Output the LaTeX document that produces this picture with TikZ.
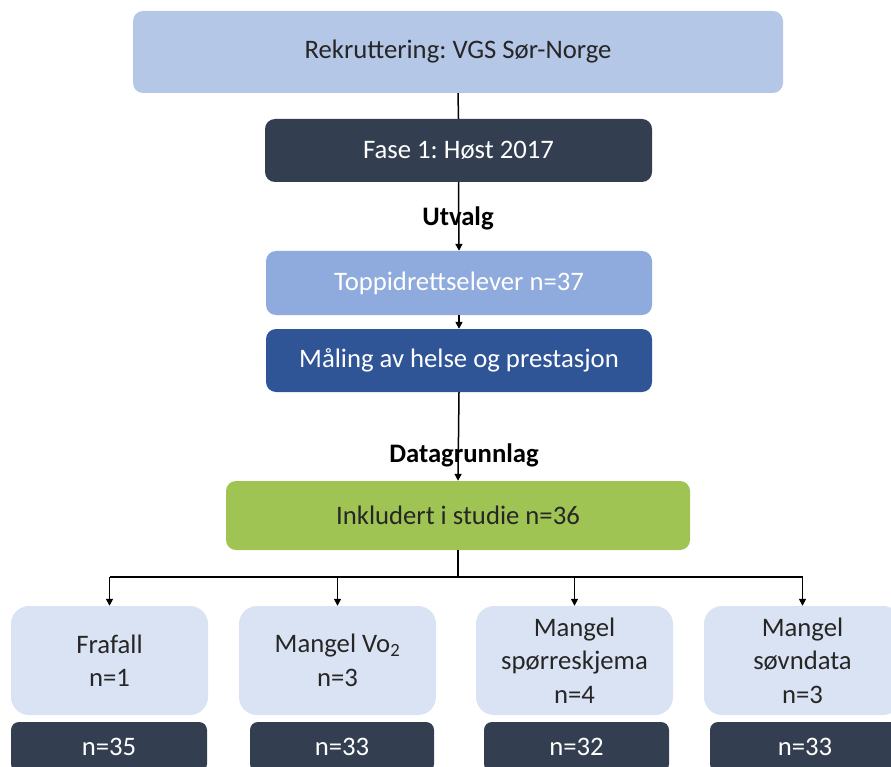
\documentclass[tikz,border=0pt]{standalone}
\usepackage{fontspec}
\setmainfont{Carlito}
\frenchspacing
\usetikzlibrary{arrows.meta}
\definecolor{cRek}{HTML}{B4C7E7}
\definecolor{cDark}{HTML}{333F50}
\definecolor{cTop}{HTML}{8FAADC}
\definecolor{cMaal}{HTML}{2F5597}
\definecolor{cInk}{HTML}{9FC453}
\definecolor{cLight}{HTML}{DAE3F3}
\definecolor{cTxt}{HTML}{262626}
\tikzset{
  boxbase/.style={rectangle, inner sep=0pt, align=center, font=\fontsize{26.7}{33.5}\selectfont},
  mainbox/.style={boxbase, rounded corners=10pt},
  lightbox/.style={boxbase, rounded corners=18pt, fill=cLight, text=cTxt, minimum width=197pt, minimum height=109pt},
  darkbox/.style={boxbase, rounded corners=8pt, fill=cDark, text=white, minimum height=50pt},
  lbl/.style={font=\bfseries\fontsize{26.7}{30}\selectfont, inner sep=0pt},
  conn/.style={line width=1.5pt, black},
  arr/.style={conn, -{Triangle[length=7pt,width=7pt]}}
}
\begin{document}
\begin{tikzpicture}[x=1pt,y=-1pt]
\useasboundingbox (0,0) rectangle (891,767);
\clip (0,0) rectangle (891,767);
\node[mainbox, fill=cRek, text=cTxt, minimum width=650pt, minimum height=82pt] (rek) at (458,52) {Rekruttering: VGS Sør-Norge};
\node[mainbox, fill=cDark, text=white, minimum width=387pt, minimum height=63pt] (fase) at (458.5,150.5) {Fase 1: Høst 2017};
\node[mainbox, fill=cTop, text=white, minimum width=386pt, minimum height=64pt] (top) at (459,283) {Toppidrettselever n=37};
\node[mainbox, fill=cMaal, text=white, minimum width=386pt, minimum height=63pt] (maal) at (459,360.5) {Måling av helse og prestasjon};
\node[mainbox, fill=cInk, text=cTxt, minimum width=464pt, minimum height=69pt] (ink) at (458,515.5) {Inkludert i studie n=36};
\node[lbl] (utv) at (458,218) {Utvalg};
\node[lbl] (dg) at (464,455) {Datagrunnlag};

\node[lightbox] (b1) at (109.5,660.5) {Frafall\\n=1};
\node[lightbox] (b2) at (337.5,660.5) {Mangel Vo\textsubscript{2}\\n=3};
\node[lightbox] (b3) at (574.5,660.5) {Mangel\\spørreskjema\\n=4};
\node[lightbox] (b4) at (802.5,660.5) {Mangel\\søvndata\\n=3};

\node[darkbox, minimum width=196pt] (d1) at (109,747) {n=35};
\node[darkbox, minimum width=184pt] (d2) at (342,747) {n=33};
\node[darkbox, minimum width=185pt] (d3) at (576.5,747) {n=32};
\node[darkbox, minimum width=190pt] (d4) at (805,747) {n=33};

\draw[conn] (rek.south) -- (fase.north);
\draw[arr] (fase.south) -- (top.north);
\draw[arr] (top.south) -- (maal.north);
\draw[arr] (maal.south) -- (ink.north);
\coordinate (j) at (458,577);
\draw[conn] (ink.south) -- (j);
\draw[conn] (b1.north |- j) -- (b4.north |- j);
\foreach \b in {b1,b2,b3,b4}{
  \draw[arr] (\b.north |- j) -- (\b.north);
}
\end{tikzpicture}
\end{document}
